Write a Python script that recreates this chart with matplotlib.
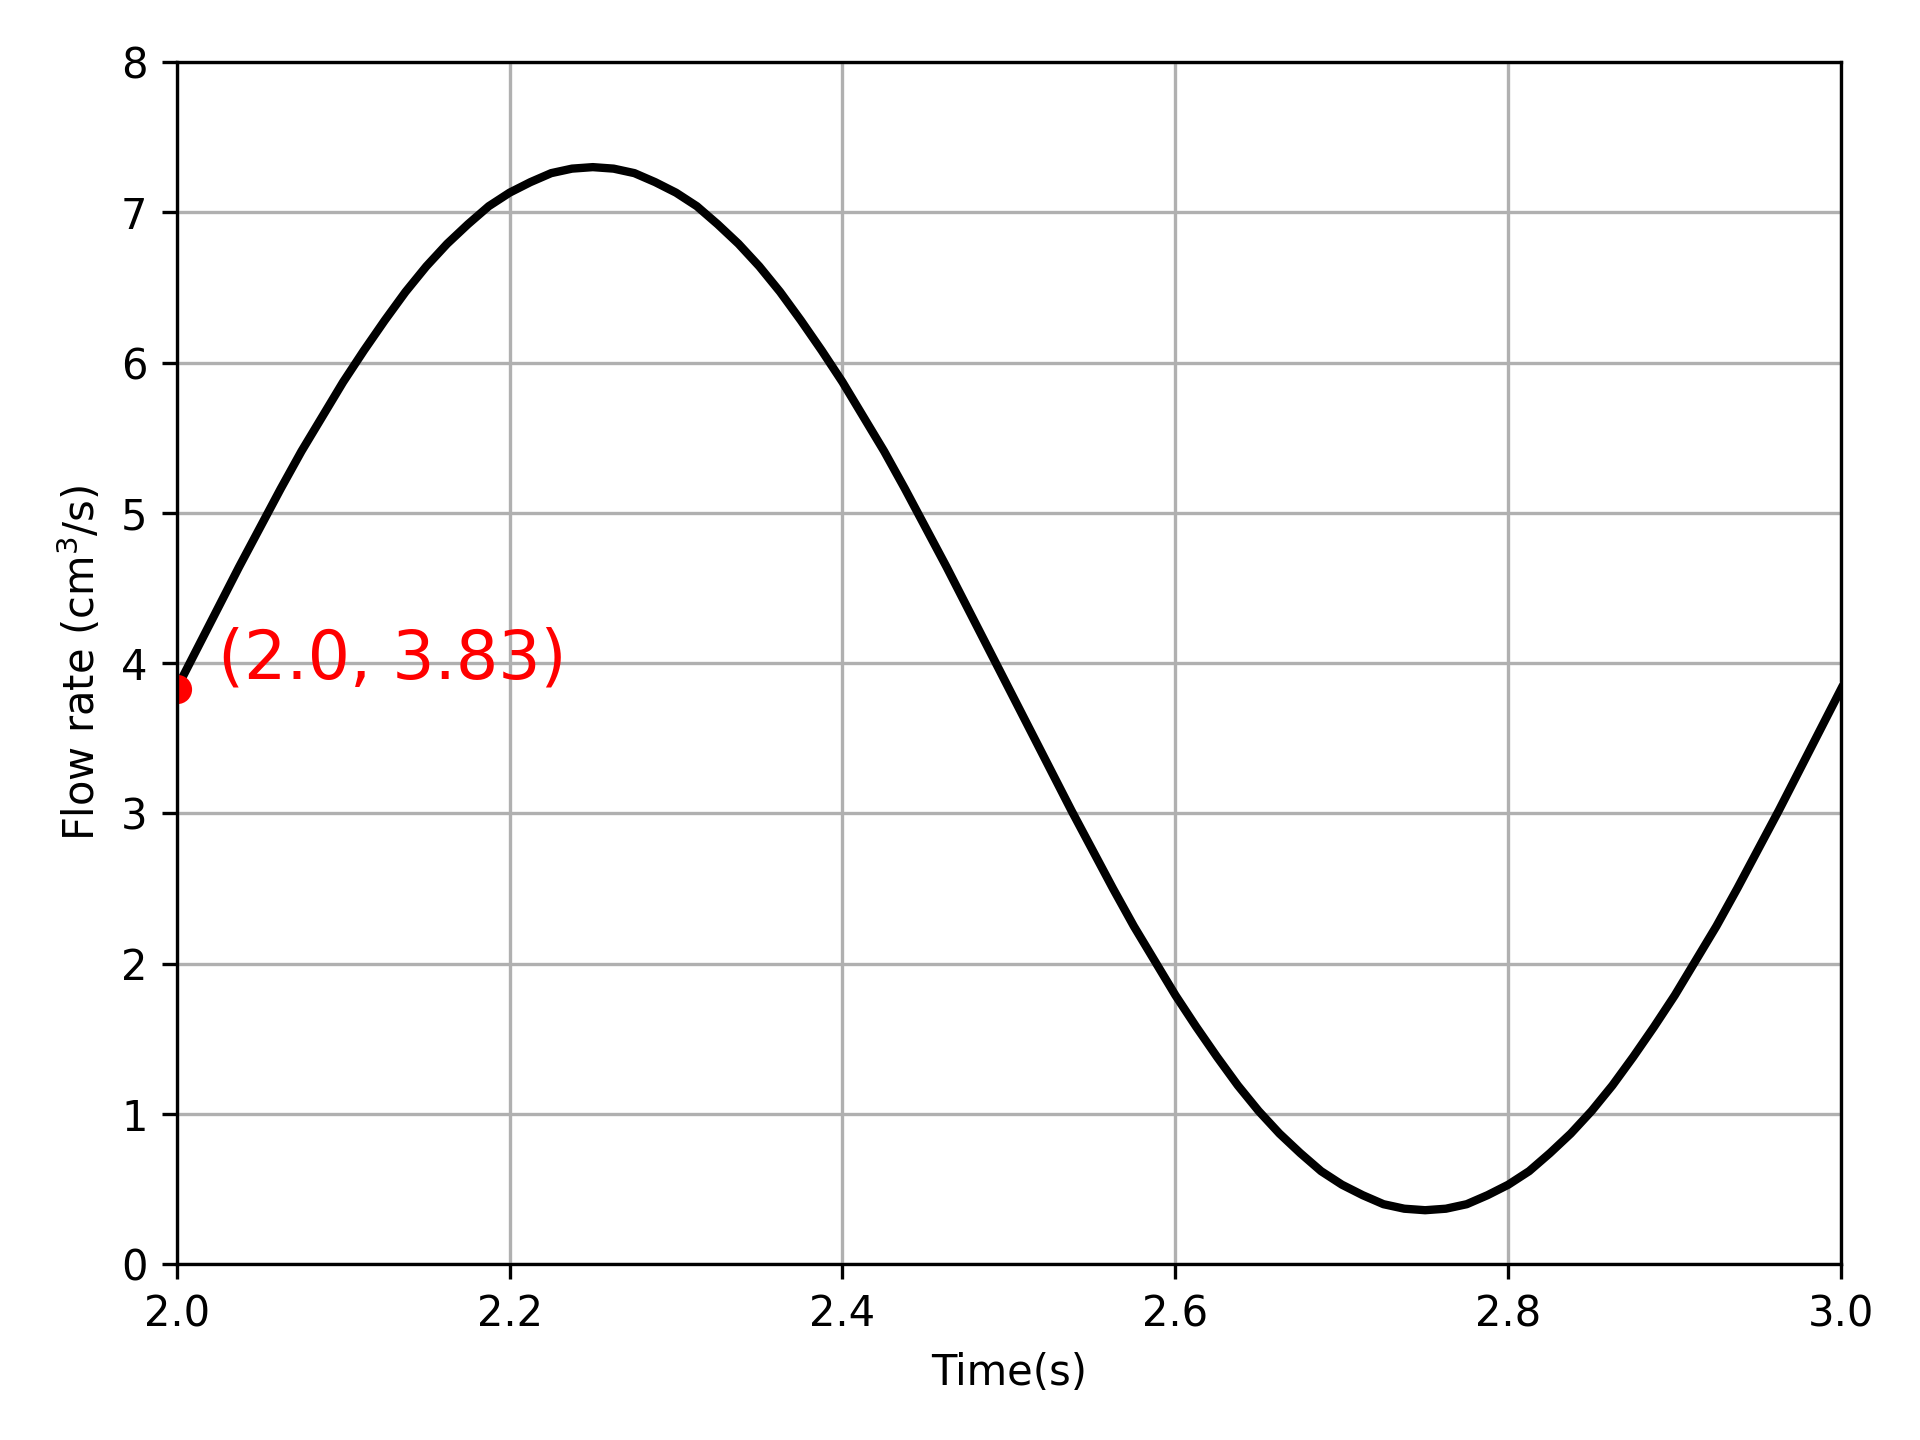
import matplotlib.pyplot as plt
import numpy as np

# flow rate every 0.0125 s
time = np.round(np.linspace(2.0, 3.0, 81), 4)
flow = [3.83, 4.10, 4.37, 4.64, 4.90, 5.16, 5.41, 5.64, 5.87, 6.08,
        6.28, 6.47, 6.64, 6.79, 6.92, 7.04, 7.13, 7.20, 7.26, 7.29,
        7.30, 7.29, 7.26, 7.20, 7.13, 7.04, 6.92, 6.79, 6.64, 6.47,
        6.28, 6.08, 5.87, 5.64, 5.41, 5.16, 4.90, 4.64, 4.37, 4.10,
        3.83, 3.56, 3.29, 3.02, 2.76, 2.50, 2.25, 2.02, 1.79, 1.58,
        1.38, 1.19, 1.02, 0.87, 0.74, 0.62, 0.53, 0.46, 0.40, 0.37,
        0.36, 0.37, 0.40, 0.46, 0.53, 0.62, 0.74, 0.87, 1.02, 1.19,
        1.38, 1.58, 1.79, 2.02, 2.25, 2.50, 2.76, 3.02, 3.29, 3.56,
        3.83]

point_t = 2.0
point_q = 3.83

fig = plt.figure(figsize=(6.4, 4.8), dpi=300)
plt.plot(time, flow, 'k-', linewidth=2)
plt.plot(point_t, point_q, 'ro', markersize=6)
plt.text(point_t + 0.025, point_q + 0.07, f'({point_t}, {point_q})',
         color='red', fontsize=16)

plt.xlim(2.0, 3.0)
plt.ylim(0, 8)
plt.grid(True)
plt.xlabel('Time(s)')
plt.ylabel('Flow rate (cm$^3$/s)')

plt.subplots_adjust(left=0.092, right=0.959, top=0.957, bottom=0.122)
plt.savefig('out.png', dpi=300)
